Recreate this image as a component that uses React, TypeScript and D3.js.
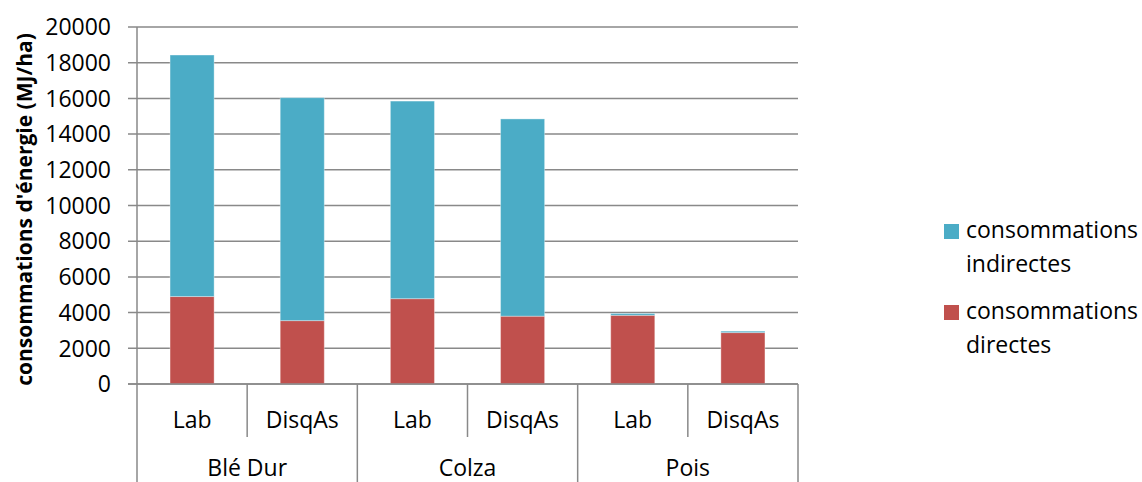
import React from "react";
import * as d3 from "d3";

const groups = ["Blé Dur", "Colza", "Pois"];
const subLabels = ["Lab", "DisqAs"];
const directes = [4900, 3550, 4780, 3800, 3850, 2880];
const indirectes = [13530, 12490, 11070, 11050, 100, 80];
const yTicks = [0, 2000, 4000, 6000, 8000, 10000, 12000, 14000, 16000, 18000, 20000];
const seriesNames = ["consommations indirectes", "consommations directes"];

const W = 1142, H = 482;
const left = 137, right = 798, top = 27, bottom = 384;
const FONT = "'Open Sans', 'Noto Sans', sans-serif";
const BLUE = "#4BACC6";
const RED = "#C0504D";
const GRID = "#898989";
const FS = 23;

export default function App() {
  const cats = groups.flatMap((g) => subLabels.map((s) => `${g}|${s}`));
  const x = d3.scaleBand().domain(cats).range([left, right]).paddingInner(0.6).paddingOuter(0.3);
  const xOuter = d3.scaleBand().domain(cats).range([left, right]);
  const y = d3.scaleLinear().domain([0, 20000]).range([bottom, top]);

  const stack = d3.stack<number>().keys(["d", "i"]).value((idx, k) => (k === "d" ? directes[idx] : indirectes[idx]));
  const series = stack(d3.range(cats.length));
  const colors = [RED, BLUE];

  return (
    <div style={{ position: "fixed", left: 0, top: 0 }}>
      <svg width={W} height={H} style={{ display: "block", background: "#fff" }}>
        {yTicks.map((t) => (
          <g key={t}>
            <line x1={left - 9} x2={right} y1={y(t)} y2={y(t)} stroke={GRID} strokeWidth={1.5} />
            <text x={111} y={y(t)} dy="0.36em" textAnchor="end" fontFamily={FONT} fontSize={FS} fill="#000">
              {t}
            </text>
          </g>
        ))}
        {series.map((s, si) =>
          s.map((d, i) => (
            <rect
              key={`${si}-${i}`}
              x={x(cats[i])!}
              width={x.bandwidth()}
              y={y(d[1])}
              height={Math.max(0, y(d[0]) - y(d[1]))}
              fill={colors[si]}
              stroke="#ffffff"
              strokeOpacity={0.35}
              strokeWidth={1}
            />
          ))
        )}
        <line x1={left} x2={left} y1={top} y2={H} stroke={GRID} strokeWidth={1.5} />
        <line x1={left - 9} x2={right} y1={bottom} y2={bottom} stroke={GRID} strokeWidth={1.5} />
        {cats.map((c, i) => {
          const xe = xOuter(c)! + xOuter.bandwidth();
          const isGroupEnd = i % 2 === 1;
          return (
            <line key={c} x1={xe} x2={xe} y1={bottom} y2={isGroupEnd ? H : 437} stroke={GRID} strokeWidth={1.5} />
          );
        })}
        {cats.map((c) => (
          <text
            key={c}
            x={xOuter(c)! + xOuter.bandwidth() / 2}
            y={428}
            textAnchor="middle"
            fontFamily={FONT}
            fontSize={FS}
            fill="#000"
          >
            {c.split("|")[1]}
          </text>
        ))}
        {groups.map((g, gi) => {
          const x0 = xOuter(cats[gi * 2])!;
          const x1 = xOuter(cats[gi * 2 + 1])! + xOuter.bandwidth();
          return (
            <text key={g} x={(x0 + x1) / 2} y={476} textAnchor="middle" fontFamily={FONT} fontSize={FS} fill="#000">
              {g}
            </text>
          );
        })}
        <text
          transform={`translate(32, ${(top + bottom) / 2 + 4}) rotate(-90)`}
          textAnchor="middle"
          fontFamily={FONT}
          fontSize={21}
          fontWeight="bold"
          fill="#000"
        >
          consommations d'énergie (MJ/ha)
        </text>
        {seriesNames.map((n, i) => {
          const yy = 224 + i * 81;
          const parts = n.split(" ");
          return (
            <g key={n}>
              <rect x={944} y={yy} width={15} height={15} fill={i === 0 ? BLUE : RED} />
              <text x={966} y={yy + 14} fontFamily={FONT} fontSize={FS} fill="#000">
                {parts[0]}
              </text>
              <text x={966} y={yy + 48} fontFamily={FONT} fontSize={FS} fill="#000">
                {parts[1]}
              </text>
            </g>
          );
        })}
      </svg>
    </div>
  );
}
